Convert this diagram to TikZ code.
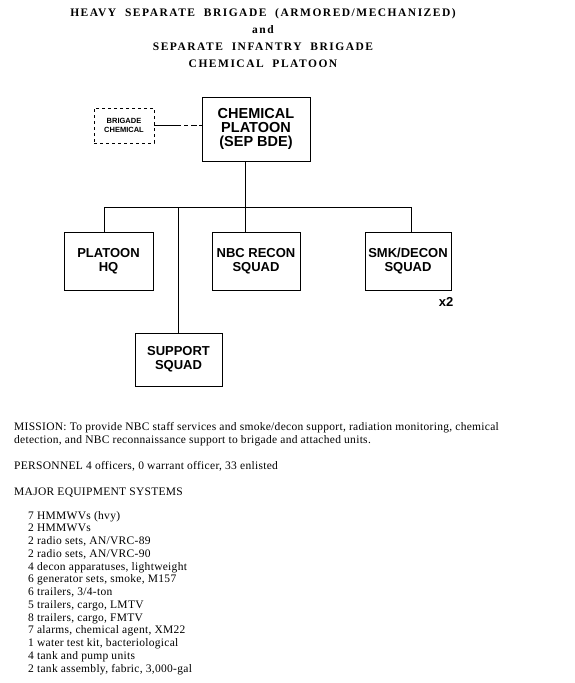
\documentclass[tikz,border=0pt]{standalone}
\usepackage{fontspec}
\setmainfont{Liberation Serif}
\newfontfamily\boxfont{Liberation Sans}
\newfontfamily\titlefont[LetterSpace=13,WordSpace=2.0]{Liberation Serif}
\newfontfamily\bodyfont[LetterSpace=2.5]{Liberation Serif}
\begin{document}
\begin{tikzpicture}[x=1pt,y=-1pt,
  unit/.style={draw,line width=0.8pt,inner sep=0pt,align=center,
    font=\boxfont\bfseries\fontsize{13}{14}\selectfont},
  conn/.style={line width=0.8pt},
  body/.style={anchor=base west,inner sep=0pt,font=\bodyfont\fontsize{11.5}{12}\selectfont},
  ttl/.style={anchor=base,inner sep=0pt,font=\titlefont\bfseries\fontsize{11.5}{12}\selectfont}]
\useasboundingbox (0,0) rectangle (574,683);
% title
\node[ttl] (t1) at (263,16.5) {HEAVY SEPARATE BRIGADE (ARMORED/MECHANIZED)};
\node[ttl] (t2) at (263,33.5) {and};
\node[ttl] (t3) at (263,50.5) {SEPARATE INFANTRY BRIGADE};
\node[ttl] (t4) at (263,67.5) {CHEMICAL PLATOON};
% boxes
\node[unit,dashed,minimum width=60pt,minimum height=35pt,font=\boxfont\bfseries\fontsize{7.5}{9}\selectfont] (bc) at (124,125.5) {BRIGADE\\CHEMICAL};
\node[unit,minimum width=108pt,minimum height=64pt,font=\boxfont\bfseries\fontsize{14.5}{14}\selectfont] (cp) at (256,129) {CHEMICAL\\PLATOON\\(SEP BDE)};
\node[unit,minimum width=89pt,minimum height=58pt] (hq) at (108.5,261) {PLATOON\\HQ};
\node[unit,minimum width=88pt,minimum height=58pt] (nbc) at (256,261) {NBC RECON\\SQUAD};
\node[unit,minimum width=86pt,minimum height=58pt] (smk) at (408,261) {SMK/DECON\\SQUAD};
\node[unit,minimum width=87pt,minimum height=53pt] (sup) at (178.5,359.5) {SUPPORT\\SQUAD};
\node[anchor=base,inner sep=0pt,font=\boxfont\bfseries\fontsize{13}{14}\selectfont] (x2) at (446,306) {x2};
% connectors
\coordinate (b1) at (104,207);
\coordinate (b2) at (245,207);
\coordinate (b3) at (178,208);
\coordinate (b4) at (411,207);
\draw[conn,dash pattern={on 27pt off 3pt on 4pt off 3pt on 6pt off 2pt on 30pt}] (bc.east) -- (cp.west |- bc.east);
\draw[conn] (cp.south -| b2) -- (b2);
\draw[conn] (b1) -- (b4);
\draw[conn] (b1) -- (b1 |- hq.north);
\draw[conn] (b2) -- (b2 |- nbc.north);
\draw[conn] (b4) -- (b4 |- smk.north);
\draw[conn] (b3) -- (b3 |- sup.north);
% text
\node[body] (m1) at (14,430) {MISSION: To provide NBC staff services and smoke/decon support, radiation monitoring, chemical};
\node[body] (m2) at (14,443) {detection, and NBC reconnaissance support to brigade and attached units.};
\node[body] (p1) at (14,469) {PERSONNEL 4 officers, 0 warrant officer, 33 enlisted};
\node[body] (e0) at (14,495) {MAJOR EQUIPMENT SYSTEMS};
\foreach \t [count=\i from 0] in {7 HMMWVs (hvy),2 HMMWVs,{2 radio sets, AN/VRC-89},{2 radio sets, AN/VRC-90},{4 decon apparatuses, lightweight},{6 generator sets, smoke, M157},{6 trailers, 3/4-ton},{5 trailers, cargo, LMTV},{8 trailers, cargo, FMTV},{7 alarms, chemical agent, XM22},{1 water test kit, bacteriological},{4 tank and pump units},{2 tank assembly, fabric, 3,000-gal}}
  \node[body] (e\i) at (28,{519+12.75*\i}) {\t};
\end{tikzpicture}
\end{document}
